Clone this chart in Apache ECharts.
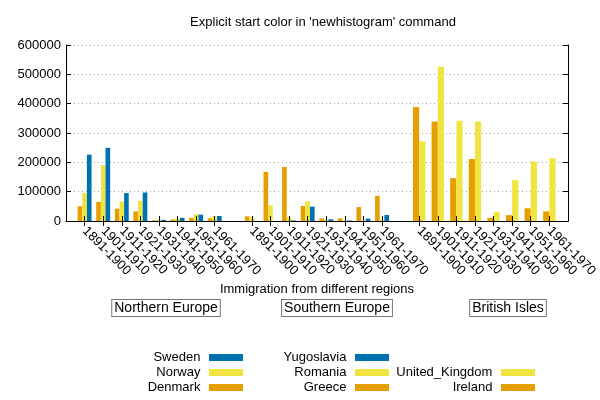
<!DOCTYPE html>
<html>
<head>
<meta charset="utf-8">
<script src="https://cdn.jsdelivr.net/npm/echarts@6/dist/echarts.min.js"></script>
<style>html,body{margin:0;padding:0;background:#fff}#c{width:600px;height:400px}</style>
</head>
<body>
<div id="c"></div>
<script>
const decades = ['1891-1900','1901-1910','1911-1920','1921-1930','1931-1940','1941-1950','1951-1960','1961-1970'];
const groupNames = ['Northern Europe','Southern Europe','British Isles'];
// Northern Europe
const denmark = [50231, 65285, 41983, 32430, 2559, 5393, 10984, 9201];
const norway  = [95015, 190505, 66395, 68531, 4740, 10100, 22935, 15484];
const sweden  = [226266, 249534, 95074, 97249, 3960, 10665, 21697, 17116];
// Southern Europe
const greece     = [15979, 167519, 184201, 51084, 9119, 8973, 47608, 85969];
const romania    = [12750, 53008, 13311, 67646, 3871, 1076, 1039, 3531];
const yugoslavia = [0, 0, 1888, 49064, 5835, 1576, 8225, 20381];
// British Isles
const ireland       = [388416, 339065, 146181, 211234, 10973, 19789, 43362, 32966];
const unitedKingdom = [271538, 525950, 341408, 339570, 31572, 139306, 202824, 213822];
const yTicks = [0, 100000, 200000, 300000, 400000, 500000, 600000];

const C_ORANGE = '#e69f00', C_YELLOW = '#f0e442', C_BLUE = '#0072b2';
const FONT = 'Liberation Sans, Arial, sans-serif';

// category slots: one blank slot before, between and after each group
const slots = [''];
groupNames.forEach(() => { decades.forEach(d => slots.push(d)); slots.push(''); });
function inGroup(values, g) {
  const arr = slots.map(() => null);
  const start = 1 + g * (decades.length + 1);
  values.forEach((v, i) => { arr[start + i] = v; });
  return arr;
}
const tickFn = (idx, val) => val !== '';

const chart = echarts.init(document.getElementById('c'), null, {renderer: 'canvas'});
function bar(name, values, g, color, stack, axis) {
  return {
    type: 'bar', name, stack, xAxisIndex: axis, yAxisIndex: 0,
    data: inGroup(values, g),
    itemStyle: {color},
    barGap: 0,
    barCategoryGap: axis === 0 ? '25%' : '33.33%',
    emphasis: {disabled: true}
  };
}
const legendBase = {
  orient: 'vertical', align: 'right', icon: 'rect',
  itemWidth: 34, itemHeight: 7, itemGap: 0, padding: 0,
  formatter: n => n + ' ',
  textStyle: {fontFamily: FONT, fontSize: 13, color: '#000', lineHeight: 15}
};
const boxStyle = {font: '14px ' + FONT, fill: '#000', textAlign: 'center', textVerticalAlign: 'middle', borderColor: '#777', borderWidth: 1, padding: [1, 2, 1, 2], backgroundColor: '#fff'};
chart.setOption({
  animation: false,
  graphic: [
    {type: 'text', x: 323, y: 22, style: {text: "Explicit start color in 'newhistogram' command", font: '13px ' + FONT, fill: '#000', textAlign: 'center', textVerticalAlign: 'middle'}},
    {type: 'text', x: 166, y: 308, style: Object.assign({text: groupNames[0]}, boxStyle)},
    {type: 'text', x: 337, y: 308, style: Object.assign({text: groupNames[1]}, boxStyle)},
    {type: 'text', x: 508, y: 308, style: Object.assign({text: groupNames[2]}, boxStyle)}
  ],
  legend: [
    Object.assign({}, legendBase, {right: 357, top: 350, data: ['Sweden', 'Norway', 'Denmark']}),
    Object.assign({}, legendBase, {right: 211, top: 350, data: ['Yugoslavia', 'Romania', 'Greece']}),
    Object.assign({}, legendBase, {right: 65, top: 365, data: ['United_Kingdom', 'Ireland']})
  ],
  grid: {left: 66, right: 21, top: 45, bottom: 179, containLabel: false},
  xAxis: [
    {
      type: 'category', data: slots, boundaryGap: false, position: 'bottom', z: 5,
      name: 'Immigration from different regions', nameLocation: 'middle', nameGap: 62,
      nameTextStyle: {fontFamily: FONT, fontSize: 13, color: '#000'},
      axisLine: {show: true, lineStyle: {color: '#000', width: 1}},
      axisTick: {show: true, inside: true, length: 5, interval: tickFn, lineStyle: {color: '#000'}},
      axisLabel: {show: true, interval: 0, rotate: -45, margin: 8, fontFamily: FONT, fontSize: 13, color: '#000'},
      splitLine: {show: false}
    },
    {
      type: 'category', data: slots, boundaryGap: false, position: 'top', z: 5,
      axisLine: {show: true, lineStyle: {color: '#000', width: 1}},
      axisTick: {show: true, inside: true, length: 5, interval: tickFn, lineStyle: {color: '#000'}},
      axisLabel: {show: false},
      splitLine: {show: false}
    }
  ],
  yAxis: [
    {
      type: 'value', min: yTicks[0], max: yTicks[yTicks.length - 1], interval: yTicks[1] - yTicks[0], position: 'left',
      axisLine: {show: true, lineStyle: {color: '#000', width: 1}},
      axisTick: {show: true, inside: true, length: 5, lineStyle: {color: '#000'}},
      axisLabel: {margin: 5, fontFamily: FONT, fontSize: 13, color: '#000', formatter: v => String(v)},
      splitLine: {show: true, lineStyle: {color: '#a0a0a0', width: 1, type: [1, 3]}}
    },
    {
      type: 'value', min: yTicks[0], max: yTicks[yTicks.length - 1], interval: yTicks[1] - yTicks[0], position: 'right',
      axisLine: {show: true, lineStyle: {color: '#000', width: 1}},
      axisTick: {show: true, inside: true, length: 5, lineStyle: {color: '#000'}},
      axisLabel: {show: false},
      splitLine: {show: false}
    }
  ],
  series: [
    bar('Denmark', denmark, 0, C_ORANGE, 'a', 0),
    bar('Norway', norway, 0, C_YELLOW, 'b', 0),
    bar('Sweden', sweden, 0, C_BLUE, 'c', 0),
    bar('Greece', greece, 1, C_ORANGE, 'a', 0),
    bar('Romania', romania, 1, C_YELLOW, 'b', 0),
    bar('Yugoslavia', yugoslavia, 1, C_BLUE, 'c', 0),
    bar('Ireland', ireland, 2, C_ORANGE, 'd', 1),
    bar('United_Kingdom', unitedKingdom, 2, C_YELLOW, 'e', 1)
  ]
});
</script>
</body>
</html>
